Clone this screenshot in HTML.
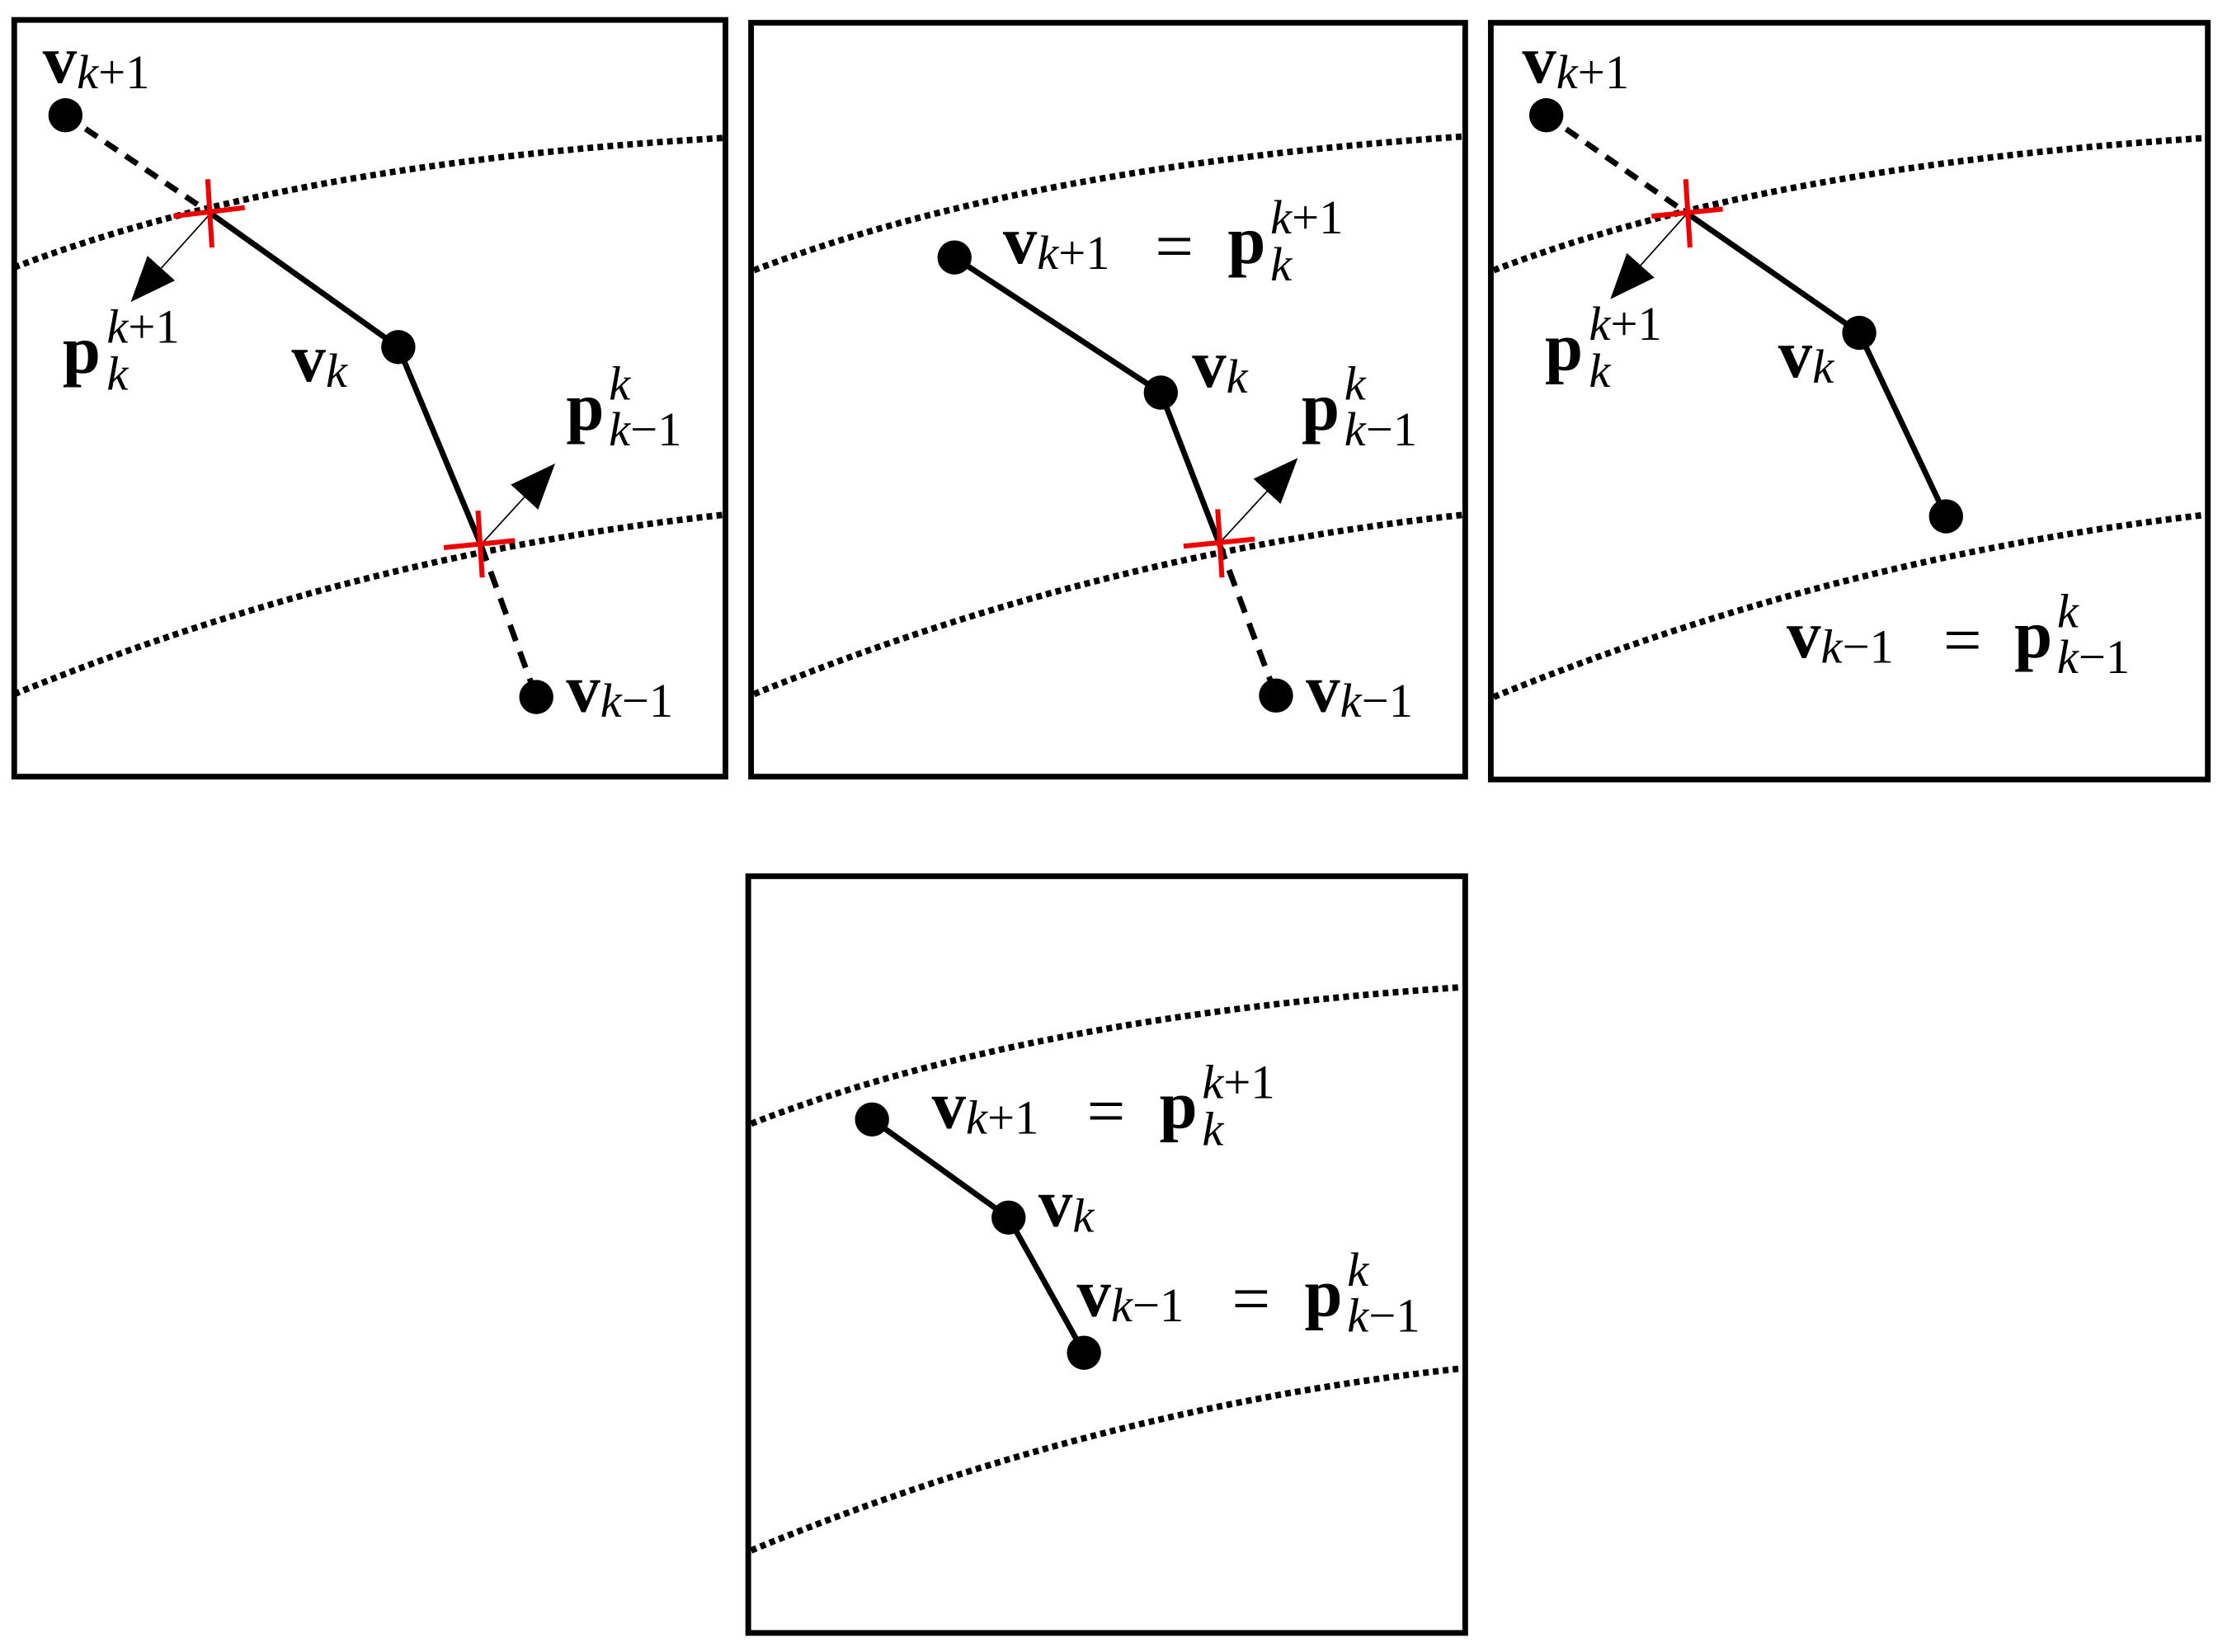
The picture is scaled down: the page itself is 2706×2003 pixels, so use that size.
<!DOCTYPE html>
<html><head><meta charset="utf-8"><style>
html,body{margin:0;padding:0;background:#fff;}
svg{display:block;}
text{font-family:"Liberation Serif",serif;fill:#000;}
.b{font-weight:bold;}
.i{font-style:italic;font-family:"Liberation Serif",serif;}
</style></head><body>
<svg width="2706" height="2003" viewBox="0 0 1569 1161.4" preserveAspectRatio="xMinYMin meet" xmlns="http://www.w3.org/2000/svg">
<defs>
<marker id="ah" markerUnits="userSpaceOnUse" markerWidth="34" markerHeight="34" viewBox="0 0 34 34" refX="2" refY="17" orient="auto">
<path d="M0,4 L32,17 L0,30 Z" fill="#000"/>
</marker>
</defs>
<g fill="none" stroke="#000" stroke-width="4">
<rect x="10" y="14" width="500" height="532"/>
<rect x="528" y="16" width="502" height="530"/>
<rect x="1048" y="16" width="504" height="532"/>
<rect x="526" y="616" width="504" height="532"/>
</g>
<g fill="none" stroke="#000" stroke-width="4.5" stroke-dasharray="4 3">
<path d="M10,188 Q200,115 508,97"/>
<path d="M10,488 Q250,390 508,362"/>
<path d="M530,190 Q720,117 1028,96"/>
<path d="M530,488 Q770,390 1028,362"/>
<path d="M1050,190 Q1240,117 1550,97"/>
<path d="M1050,490 Q1290,392 1550,362"/>
<path d="M528,790 Q720,715 1028,694"/>
<path d="M528,1090 Q770,990 1028,962"/>
</g>
<!-- panel 1 -->
<g stroke="#000" stroke-width="4" fill="none">
<line x1="46" y1="81" x2="148" y2="150" stroke-dasharray="10 7"/>
<polyline points="148,150 280,244 338,383"/>
<line x1="338" y1="383" x2="377" y2="490" stroke-dasharray="12 8"/>
</g>
<g stroke="#000" stroke-width="1">
<line x1="148" y1="150" x2="112" y2="190" marker-end="url(#ah)"/>
<line x1="338" y1="383" x2="370" y2="348" marker-end="url(#ah)"/>
</g>
<g stroke="#e00" stroke-width="3.5">
<line x1="122" y1="152" x2="172" y2="146"/><line x1="146" y1="126" x2="149" y2="174"/>
<line x1="312" y1="385" x2="362" y2="380"/><line x1="336" y1="359" x2="339" y2="406"/>
</g>
<g fill="#000"><circle cx="46" cy="81" r="12"/><circle cx="280" cy="244" r="12"/><circle cx="377" cy="490" r="12"/></g>
<text x="30" y="58" font-size="48"><tspan class="b">v</tspan><tspan font-size="34" dy="4"><tspan class="i">k</tspan>+1</tspan></text>
<text x="44" y="262" font-size="48" class="b">p</text><text x="75" y="274" font-size="34" class="i">k</text><text x="75" y="241" font-size="34"><tspan class="i">k</tspan>+1</text>
<text x="205" y="268" font-size="48"><tspan class="b">v</tspan><tspan class="i" font-size="34" dy="4">k</tspan></text>
<text x="398" y="302" font-size="48" class="b">p</text><text x="428" y="313" font-size="34"><tspan class="i">k</tspan>−1</text><text x="428" y="281" font-size="34" class="i">k</text>
<text x="398" y="500" font-size="48"><tspan class="b">v</tspan><tspan font-size="34" dy="4"><tspan class="i">k</tspan>−1</tspan></text>
<!-- panel 2 -->
<g stroke="#000" stroke-width="4" fill="none">
<polyline points="671,181 816,276 857,382"/>
<line x1="857" y1="382" x2="897" y2="489" stroke-dasharray="12 8"/>
</g>
<line x1="857" y1="382" x2="892" y2="344" stroke="#000" stroke-width="1" marker-end="url(#ah)"/>
<g stroke="#e00" stroke-width="3.5"><line x1="832" y1="384" x2="882" y2="379"/><line x1="856" y1="358" x2="859" y2="406"/></g>
<g fill="#000"><circle cx="671" cy="181" r="12"/><circle cx="816" cy="276" r="12"/><circle cx="897" cy="489" r="12"/></g>
<text x="705" y="185" font-size="48"><tspan class="b">v</tspan><tspan font-size="34" dy="4"><tspan class="i">k</tspan>+1</tspan></text>
<text x="812" y="189" font-size="48">=</text>
<text x="863" y="185" font-size="48" class="b">p</text>
<text x="893" y="197" font-size="34" class="i">k</text><text x="893" y="164" font-size="34"><tspan class="i">k</tspan>+1</text>
<text x="838" y="272" font-size="48"><tspan class="b">v</tspan><tspan class="i" font-size="34" dy="4">k</tspan></text>
<text x="915" y="302" font-size="48" class="b">p</text><text x="945" y="313" font-size="34"><tspan class="i">k</tspan>−1</text><text x="945" y="281" font-size="34" class="i">k</text>
<text x="918" y="500" font-size="48"><tspan class="b">v</tspan><tspan font-size="34" dy="4"><tspan class="i">k</tspan>−1</tspan></text>
<!-- panel 3 -->
<g stroke="#000" stroke-width="4" fill="none">
<line x1="1087" y1="81" x2="1186" y2="150" stroke-dasharray="10 7"/>
<polyline points="1186,150 1307,234 1368,363"/>
</g>
<line x1="1186" y1="150" x2="1152" y2="188" stroke="#000" stroke-width="1" marker-end="url(#ah)"/>
<g stroke="#e00" stroke-width="3.5"><line x1="1161" y1="152" x2="1211" y2="147"/><line x1="1185" y1="126" x2="1188" y2="174"/></g>
<g fill="#000"><circle cx="1087" cy="81" r="12"/><circle cx="1307" cy="234" r="12"/><circle cx="1368" cy="363" r="12"/></g>
<text x="1070" y="58" font-size="48"><tspan class="b">v</tspan><tspan font-size="34" dy="4"><tspan class="i">k</tspan>+1</tspan></text>
<text x="1086" y="260" font-size="48" class="b">p</text><text x="1117" y="272" font-size="34" class="i">k</text><text x="1117" y="239" font-size="34"><tspan class="i">k</tspan>+1</text>
<text x="1250" y="265" font-size="48"><tspan class="b">v</tspan><tspan class="i" font-size="34" dy="4">k</tspan></text>
<text x="1256" y="462" font-size="48"><tspan class="b">v</tspan><tspan font-size="34" dy="4"><tspan class="i">k</tspan>−1</tspan></text>
<text x="1366" y="466" font-size="48">=</text>
<text x="1416" y="462" font-size="48" class="b">p</text>
<text x="1446" y="473" font-size="34"><tspan class="i">k</tspan>−1</text><text x="1446" y="441" font-size="34" class="i">k</text>
<!-- panel 4 -->
<polyline points="613,787 709,856 762,951" stroke="#000" stroke-width="4" fill="none"/>
<g fill="#000"><circle cx="613" cy="787" r="12"/><circle cx="709" cy="856" r="12"/><circle cx="762" cy="951" r="12"/></g>
<text x="655" y="793" font-size="48"><tspan class="b">v</tspan><tspan font-size="34" dy="4"><tspan class="i">k</tspan>+1</tspan></text>
<text x="764" y="797" font-size="48">=</text>
<text x="815" y="793" font-size="48" class="b">p</text>
<text x="845" y="805" font-size="34" class="i">k</text><text x="845" y="772" font-size="34"><tspan class="i">k</tspan>+1</text>
<text x="730" y="862" font-size="48"><tspan class="b">v</tspan><tspan class="i" font-size="34" dy="4">k</tspan></text>
<text x="757" y="925" font-size="48"><tspan class="b">v</tspan><tspan font-size="34" dy="4"><tspan class="i">k</tspan>−1</tspan></text>
<text x="866" y="929" font-size="48">=</text>
<text x="917" y="925" font-size="48" class="b">p</text>
<text x="947" y="936" font-size="34"><tspan class="i">k</tspan>−1</text><text x="947" y="904" font-size="34" class="i">k</text>
</svg>
</body></html>
